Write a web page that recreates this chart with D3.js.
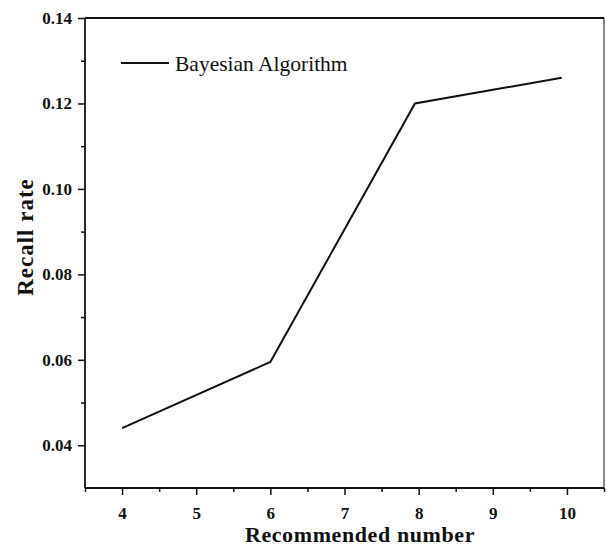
<!DOCTYPE html>
<html lang="en">
<head>
    <meta charset="UTF-8">
    <title>Recall rate</title>
    <script src="https://d3js.org/d3.v7.min.js"></script>
    <style>
        body {
            margin: 0;
            padding: 0;
            background-color: #ffffff;
            overflow: hidden;
        }
        text {
            font-family: "Liberation Serif", "Times New Roman", serif;
            fill: #111;
        }
    </style>
</head>
<body>
<div id="chart"></div>

<script>
    const recommended = [4, 6, 7.95, 9.93];
    const recallRate = [0.044, 0.0595, 0.12, 0.126];
    const xTicks = [4, 5, 6, 7, 8, 9, 10];
    const yTicks = [0.04, 0.06, 0.08, 0.10, 0.12, 0.14];
    const seriesName = "Bayesian Algorithm";

    drawChart();

    function drawChart() {
        const W = 606, H = 546;
        const margin = { top: 18, right: 2, bottom: 58, left: 85 };
        const width = W - margin.left - margin.right;
        const height = H - margin.top - margin.bottom;

        const svg = d3.select("#chart").append("svg")
            .attr("width", W)
            .attr("height", H);

        const g = svg.append("g")
            .attr("transform", `translate(${margin.left}, ${margin.top})`);

        const x = d3.scaleLinear().domain([3.5, 10.5]).range([0, width]);
        const y = d3.scaleLinear().domain([0.03, 0.14]).range([height, 0]);

        // minor ticks
        const xMinor = d3.range(3.5, 10.6, 1);
        const yMinor = d3.range(0.05, 0.14, 0.02);

        g.append("g")
            .attr("transform", `translate(0, ${height})`)
            .call(d3.axisBottom(x).tickValues(xMinor).tickSize(4).tickFormat(""))
            .call(a => a.select(".domain").remove())
            .selectAll("line").attr("stroke", "#111").attr("stroke-width", 1.5);

        g.append("g")
            .call(d3.axisLeft(y).tickValues(yMinor).tickSize(4).tickFormat(""))
            .call(a => a.select(".domain").remove())
            .selectAll("line").attr("stroke", "#111").attr("stroke-width", 1.5);

        // major ticks
        const xAxis = g.append("g")
            .attr("transform", `translate(0, ${height})`)
            .call(d3.axisBottom(x).tickValues(xTicks).tickSize(7).tickPadding(12).tickFormat(d3.format("d")));
        xAxis.select(".domain").remove();
        xAxis.selectAll("line").attr("stroke", "#111").attr("stroke-width", 1.5);
        xAxis.selectAll("text")
            .attr("font-size", 17)
            .attr("font-weight", "bold")
            .style("font-family", "'Liberation Serif', serif");

        const yAxis = g.append("g")
            .call(d3.axisLeft(y).tickValues(yTicks).tickSize(7).tickPadding(6).tickFormat(d3.format(".2f")));
        yAxis.select(".domain").remove();
        yAxis.selectAll("line").attr("stroke", "#111").attr("stroke-width", 1.5);
        yAxis.selectAll("text")
            .attr("font-size", 17)
            .attr("font-weight", "bold")
            .style("font-family", "'Liberation Serif', serif");

        // frame
        g.append("line").attr("x1", 0).attr("x2", width).attr("y1", 0).attr("y2", 0)
            .attr("stroke", "#111").attr("stroke-width", 2);
        g.append("line").attr("x1", width).attr("x2", width).attr("y1", 0).attr("y2", height)
            .attr("stroke", "#111").attr("stroke-width", 1);
        g.append("line").attr("x1", 0).attr("x2", 0).attr("y1", 0).attr("y2", height)
            .attr("stroke", "#111").attr("stroke-width", 1.8);
        g.append("line").attr("x1", 0).attr("x2", width).attr("y1", height).attr("y2", height)
            .attr("stroke", "#111").attr("stroke-width", 2);

        // data line
        const points = recommended.map((d, i) => [d, recallRate[i]]);
        g.append("path")
            .datum(points)
            .attr("fill", "none")
            .attr("stroke", "#111")
            .attr("stroke-width", 2)
            .attr("d", d3.line().x(d => x(d[0])).y(d => y(d[1])));

        // legend
        g.append("line")
            .attr("x1", 36).attr("x2", 84).attr("y1", 45).attr("y2", 45)
            .attr("stroke", "#111").attr("stroke-width", 2);
        g.append("text")
            .attr("x", 90).attr("y", 53)
            .attr("font-size", 21.5)
            .text(seriesName);

        // axis titles
        svg.append("text")
            .attr("x", 360)
            .attr("y", 542)
            .attr("text-anchor", "middle")
            .attr("font-size", 22)
            .attr("letter-spacing", 0.6)
            .attr("font-weight", "bold")
            .text("Recommended number");

        svg.append("text")
            .attr("transform", "translate(33, 237) rotate(-90)")
            .attr("text-anchor", "middle")
            .attr("font-size", 23)
            .attr("letter-spacing", 1)
            .attr("font-weight", "bold")
            .text("Recall rate");
    }
</script>
</body>
</html>
